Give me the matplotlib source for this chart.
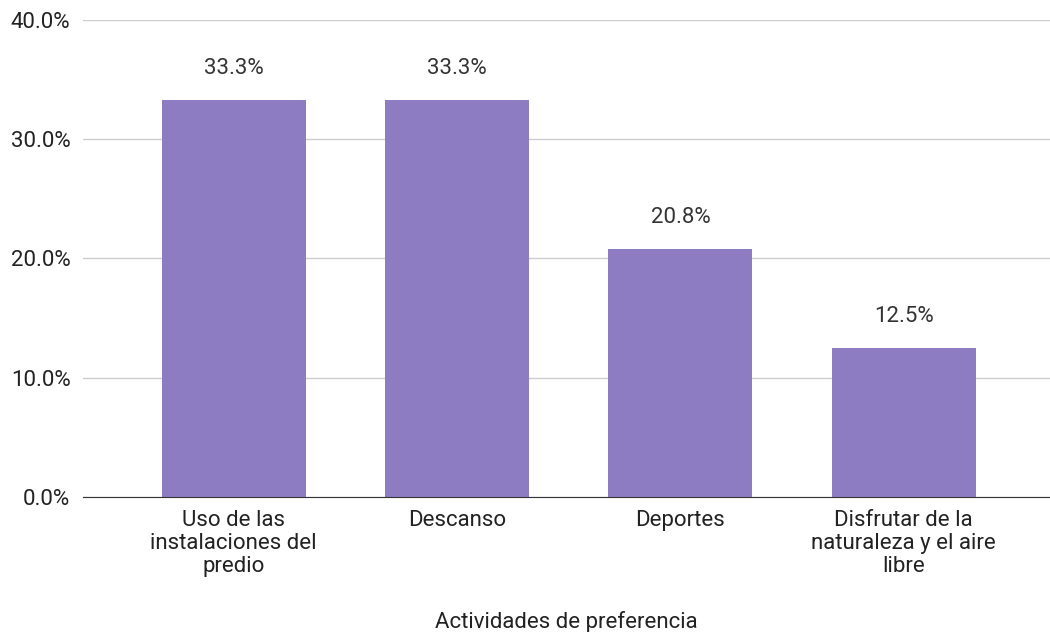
import matplotlib.pyplot as plt
from matplotlib.ticker import FuncFormatter

categories = [
    "Uso de las\ninstalaciones del\npredio",
    "Descanso",
    "Deportes",
    "Disfrutar de la\nnaturaleza y el aire\nlibre",
]
shares = [33.3, 33.3, 20.8, 12.5]
yticks = [0, 10, 20, 30, 40]

plt.rcParams["font.family"] = ["Roboto", "DejaVu Sans"]

fig = plt.figure(figsize=(10.5, 6.32), dpi=100)
ax = fig.add_axes([0.079, 0.2136, 0.921, 0.7548])

x = range(len(categories))
ax.bar(x, shares, width=0.645, color="#8e7cc3", zorder=3)

for xi, v in zip(x, shares):
    ax.annotate(f"{v:.1f}%", (xi, v), xytext=(0, 22.8), textcoords="offset points",
                ha="center", va="center", fontsize=16, color="#333333")

ax.set_xlim(-0.675, 3.655)
ax.set_ylim(0, 40)
ax.set_yticks(yticks)
ax.yaxis.set_major_formatter(FuncFormatter(lambda v, _: f"{v:.1f}%"))
ax.grid(axis="y", color="#cccccc", linewidth=1, zorder=0)
ax.set_xticks(list(x))
ax.set_xticklabels(categories, fontsize=16, color="#222222", linespacing=1.15)
ax.tick_params(axis="y", labelsize=16, labelcolor="#222222", length=0, pad=9)
ax.tick_params(axis="x", length=0, pad=9)

for side in ["top", "right", "left"]:
    ax.spines[side].set_visible(False)
ax.spines["bottom"].set_color("#333333")
ax.spines["bottom"].set_zorder(4)

ax.set_xlabel("Actividades de preferencia", fontsize=16, color="#222222", labelpad=24)

fig.savefig("out.png", dpi=100)
